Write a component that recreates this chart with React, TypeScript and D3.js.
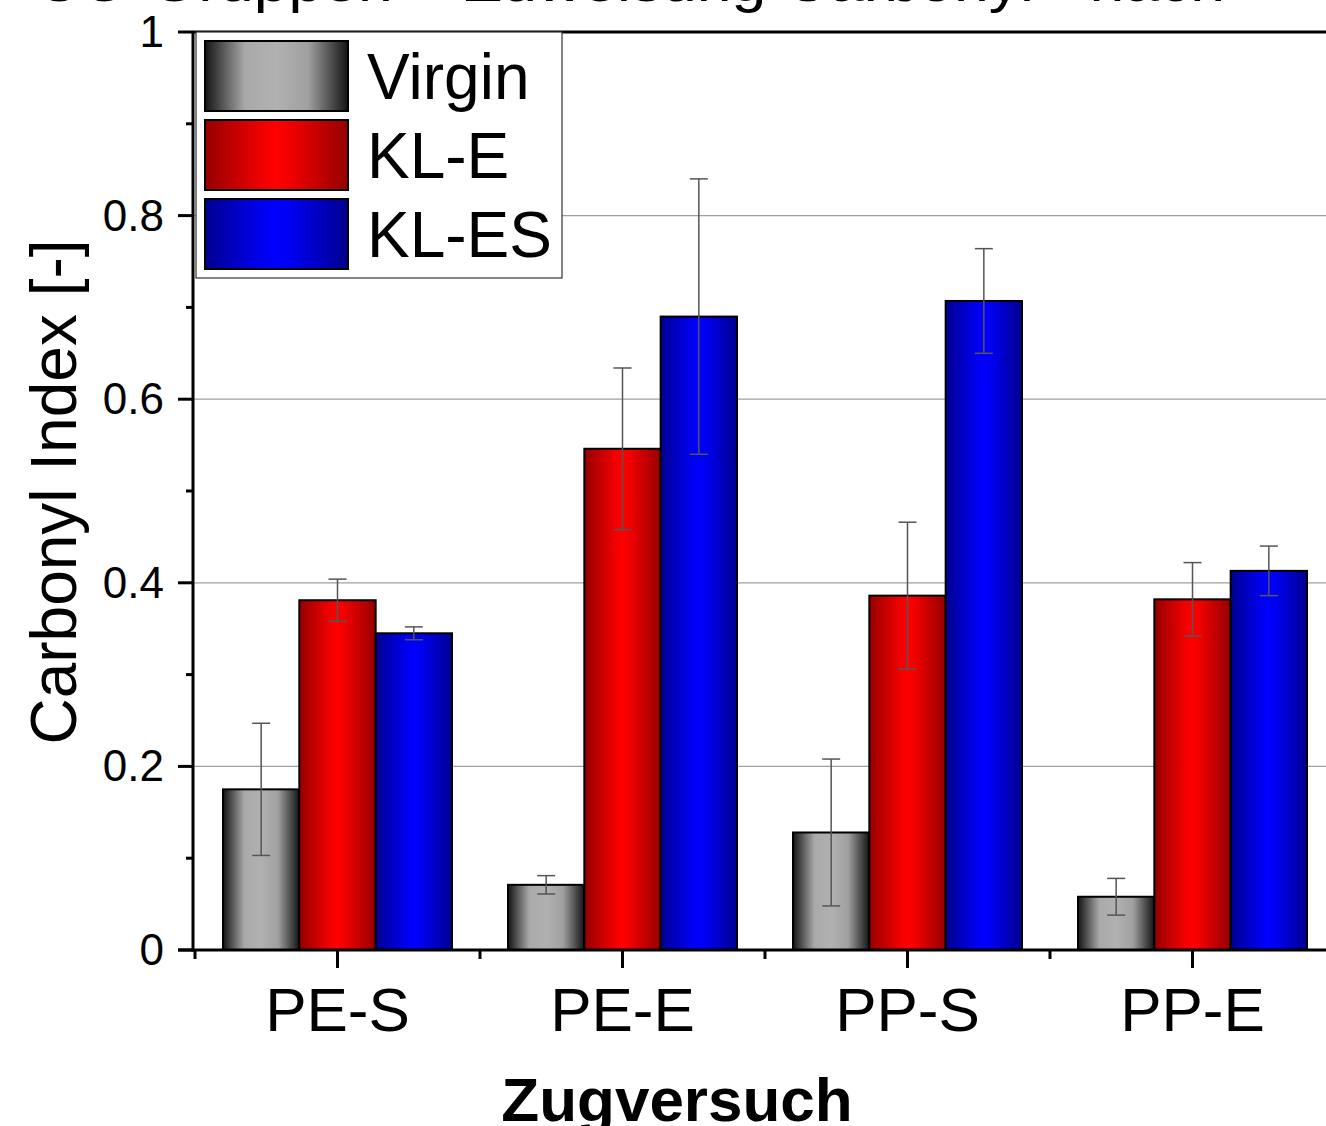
import React from "react";
import * as d3 from "d3";

const categories = ["PE-S", "PE-E", "PP-S", "PP-E"];
const seriesNames = ["Virgin", "KL-E", "KL-ES"];
const virginValues = [0.175, 0.071, 0.128, 0.058];
const virginErrors = [0.072, 0.010, 0.080, 0.020];
const kleValues = [0.381, 0.546, 0.386, 0.382];
const kleErrors = [0.023, 0.088, 0.080, 0.040];
const klesValues = [0.345, 0.690, 0.707, 0.413];
const klesErrors = [0.007, 0.150, 0.057, 0.027];
const yTicks = [0, 0.2, 0.4, 0.6, 0.8, 1];
const yMinorTicks = [0.1, 0.3, 0.5, 0.7, 0.9];
const gridValues = [0.2, 0.4, 0.6, 0.8];
const titleText = "CO-Gruppen + Zuweisung Carbonyl - nach";

const W = 1326;
const H = 1126;
const FONT = "'Liberation Sans', Arial, sans-serif";

const gradients = [
  { id: "gGray", stops: [["0%", "#141414"], ["28%", "#a9a9a9"], ["50%", "#b1b1b1"], ["72%", "#a0a0a0"], ["100%", "#141414"]] },
  { id: "gRed", stops: [["0%", "#960000"], ["40%", "#f00000"], ["50%", "#ff0000"], ["60%", "#f00000"], ["100%", "#960000"]] },
  { id: "gBlue", stops: [["0%", "#000090"], ["40%", "#0000f0"], ["50%", "#0000ff"], ["60%", "#0000f0"], ["100%", "#000090"]] },
];

export default function App() {
  const x = d3.scaleBand<string>().domain(categories).range([195, 1335]).paddingInner(0).paddingOuter(0);
  const y = d3.scaleLinear().domain([0, 1]).range([950, 32]);
  const groupWidth = 229;
  const xs = d3.scaleBand<string>().domain(seriesNames).range([0, groupWidth]);
  const series = [
    { name: "Virgin", values: virginValues, errors: virginErrors, fill: "url(#gGray)" },
    { name: "KL-E", values: kleValues, errors: kleErrors, fill: "url(#gRed)" },
    { name: "KL-ES", values: klesValues, errors: klesErrors, fill: "url(#gBlue)" },
  ];
  const axisX = 193;
  const boundaries = [...categories.map((c) => x(c)!), 1335];

  return (
    <svg width={W} height={H} style={{ position: "absolute", left: 0, top: 0, background: "#fff" }} fontFamily={FONT}>
      <defs>
        {gradients.map((g) => (
          <linearGradient key={g.id} id={g.id} x1="0" x2="1" y1="0" y2="0">
            {g.stops.map(([o, c]) => (
              <stop key={o} offset={o} stopColor={c} />
            ))}
          </linearGradient>
        ))}
      </defs>
      <rect width={W} height={H} fill="#fff" />
      {/* cut-off title */}
      <text x={35} y={1} fontSize={56} fill="#000" textLength={1190} lengthAdjust="spacingAndGlyphs">{titleText}</text>

      {/* grid */}
      {gridValues.map((v) => (
        <line key={v} x1={axisX} x2={W} y1={y(v)} y2={y(v)} stroke="#a0a0a0" strokeWidth={1.2} />
      ))}

      {/* bars */}
      {series.map((s) =>
        categories.map((c, i) => {
          const x0 = x(c)! + x.bandwidth() / 2 - groupWidth / 2 + xs(s.name)!;
          return (
            <rect key={s.name + c} x={x0} y={y(s.values[i])} width={xs.bandwidth()} height={y(0) - y(s.values[i])} fill={s.fill} stroke="#000" strokeWidth={2} />
          );
        })
      )}

      {/* error bars */}
      {series.map((s) =>
        categories.map((c, i) => {
          const cx = x(c)! + x.bandwidth() / 2 - groupWidth / 2 + xs(s.name)! + xs.bandwidth() / 2;
          const top = y(s.values[i] + s.errors[i]);
          const bot = y(s.values[i] - s.errors[i]);
          return (
            <g key={"e" + s.name + c} stroke="#555" strokeWidth={1.5}>
              <line x1={cx} x2={cx} y1={top} y2={bot} />
              <line x1={cx - 9} x2={cx + 9} y1={top} y2={top} />
              <line x1={cx - 9} x2={cx + 9} y1={bot} y2={bot} />
            </g>
          );
        })
      )}

      {/* axes */}
      <line x1={axisX} x2={W} y1={32} y2={32} stroke="#000" strokeWidth={3} />
      <line x1={axisX} x2={axisX} y1={31} y2={951.5} stroke="#000" strokeWidth={3} />
      <line x1={axisX - 15} x2={W} y1={950} y2={950} stroke="#000" strokeWidth={3} />
      {yTicks.map((t) => (
        <g key={"yt" + t}>
          <line x1={178} x2={axisX} y1={y(t)} y2={y(t)} stroke="#000" strokeWidth={3} />
          <text x={164} y={y(t) + 15} fontSize={44} textAnchor="end" fill="#000">{d3.format("~g")(t)}</text>
        </g>
      ))}
      {yMinorTicks.map((t) => (
        <line key={"ym" + t} x1={186} x2={axisX} y1={y(t)} y2={y(t)} stroke="#000" strokeWidth={3} />
      ))}
      {boundaries.map((b, i) => (
        <line key={"xm" + i} x1={b} x2={b} y1={950} y2={959} stroke="#000" strokeWidth={3} />
      ))}
      {categories.map((c) => (
        <g key={"xt" + c}>
          <line x1={x(c)! + x.bandwidth() / 2} x2={x(c)! + x.bandwidth() / 2} y1={950} y2={968} stroke="#000" strokeWidth={3} />
          <text x={x(c)! + x.bandwidth() / 2} y={1031} fontSize={62} textAnchor="middle" fill="#000">{c}</text>
        </g>
      ))}

      {/* axis titles */}
      <text transform="translate(76,492) rotate(-90)" fontSize={64} textAnchor="middle" fill="#000">Carbonyl Index [-]</text>
      <text x={677} y={1121} fontSize={62} fontWeight="bold" textAnchor="middle" fill="#000">Zugversuch</text>

      {/* legend */}
      <rect x={196} y={32} width={366} height={246} fill="#fff" stroke="#333" strokeWidth={1.2} />
      {series.map((s, i) => (
        <g key={"lg" + s.name}>
          <rect x={205} y={41 + i * 79} width={143} height={70} fill={s.fill} stroke="#000" strokeWidth={2} />
          <text x={367} y={99 + i * 79} fontSize={64} fill="#000">{s.name}</text>
        </g>
      ))}
    </svg>
  );
}
